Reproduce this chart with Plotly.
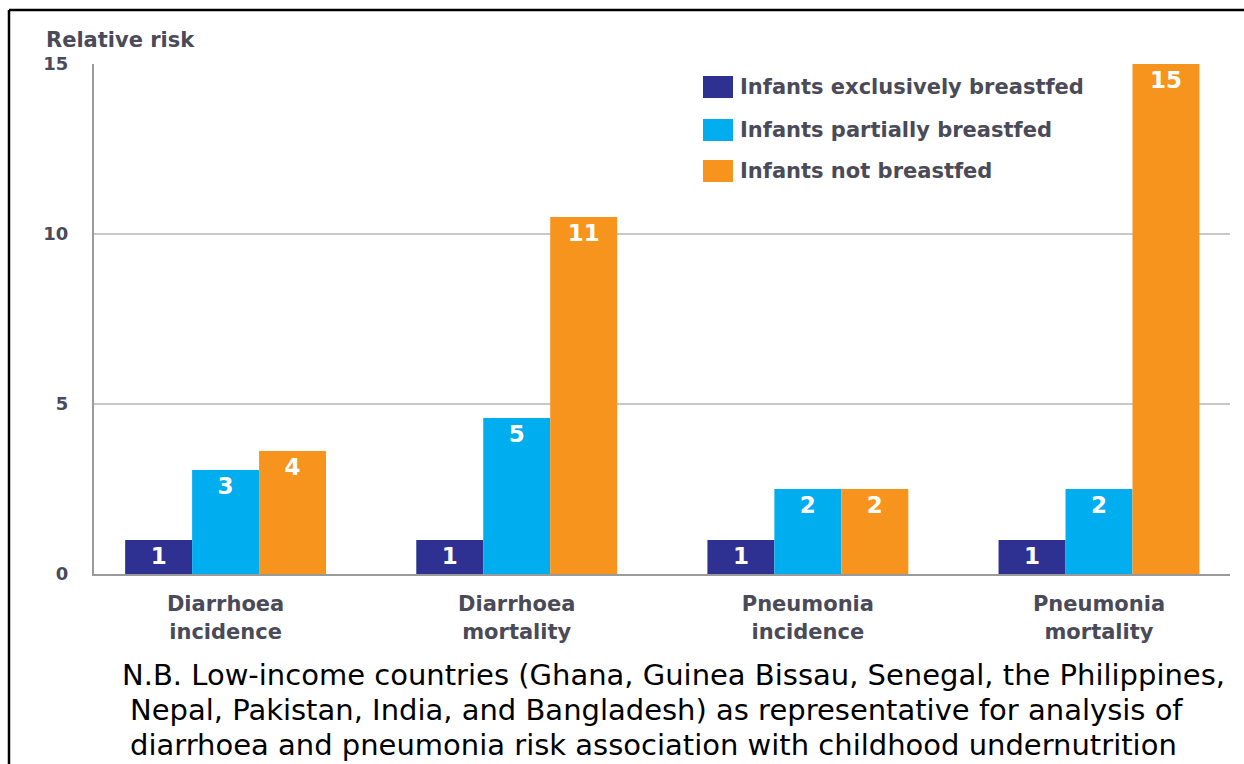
import plotly.graph_objects as go

categories = ["Diarrhoea<br>incidence", "Diarrhoea<br>mortality", "Pneumonia<br>incidence", "Pneumonia<br>mortality"]
series_names = ["Infants exclusively breastfed", "Infants partially breastfed", "Infants not breastfed"]
excl_values = [1.0, 1.0, 1.0, 1.0]
partial_values = [3.06, 4.59, 2.5, 2.5]
not_values = [3.62, 10.5, 2.5, 15.0]
excl_labels = ["1", "1", "1", "1"]
partial_labels = ["3", "5", "2", "2"]
not_labels = ["4", "11", "2", "15"]
y_ticks = [0, 5, 10, 15]
footnote_lines = [
    "N.B. Low-income countries (Ghana, Guinea Bissau, Senegal, the Philippines,",
    "Nepal, Pakistan, India, and Bangladesh) as representative for analysis of",
    "diarrhoea and pneumonia risk association with childhood undernutrition",
]

colors = ["#2E3192", "#00AEEF", "#F7941D"]
text_gray = "#4A4A58"

W, H = 1244, 764
L, R, T, B = 94, 14, 64, 190
PW, PH = W - L - R, H - T - B


def px_x(px):
    return (px - L) / PW


def px_y(py):
    return (H - B - py) / PH


xpos = list(range(len(categories)))
fig = go.Figure()
for name, vals, labels, col in zip(series_names, [excl_values, partial_values, not_values],
                                   [excl_labels, partial_labels, not_labels], colors):
    fig.add_trace(go.Bar(
        x=xpos, y=vals, name=name, marker=dict(color=col, line=dict(width=0)),
        text=labels, textposition="inside", insidetextanchor="end",
        textangle=0, constraintext="none",
        textfont=dict(color="white", size=23, family="DejaVu Sans", weight="bold"),
        showlegend=False,
    ))

fig.update_layout(
    width=W, height=H, paper_bgcolor="white", plot_bgcolor="white",
    margin=dict(l=L, r=R, t=T, b=B),
    barmode="group", bargap=0.31, bargroupgap=0,
    uniformtext=dict(mode=False),
    font=dict(family="DejaVu Sans", color=text_gray),
)
fig.update_xaxes(
    tickmode="array", tickvals=xpos,
    ticktext=["<b>" + c + "</b>" for c in categories],
    range=[-0.452, 3.45], showgrid=False, showline=True, linecolor="#9A9A9A", linewidth=2,
    ticks="", ticklabelstandoff=10,
    tickfont=dict(size=21, color=text_gray, family="DejaVu Sans"), zeroline=False,
)
fig.update_yaxes(
    range=[0, 15], tickvals=y_ticks, ticktext=["<b>%d</b>" % v for v in y_ticks],
    showgrid=True, gridcolor="#C8C8C8", gridwidth=2, showline=True, linecolor="#9A9A9A",
    linewidth=2, zeroline=False, ticks="", ticklabelstandoff=20,
    tickfont=dict(size=18, color=text_gray, family="DejaVu Sans"),
)

# Y axis title
fig.add_annotation(xref="paper", yref="paper", x=px_x(44), y=px_y(40), text="<b>Relative risk</b>",
                   showarrow=False, xanchor="left", yanchor="middle",
                   font=dict(size=21, color=text_gray, family="DejaVu Sans"))

# Custom legend
leg_y = [87, 130, 171]
for name, col, yy in zip(series_names, colors, leg_y):
    fig.add_shape(type="rect", xref="paper", yref="paper", x0=px_x(703), x1=px_x(733),
                  y0=px_y(yy + 11), y1=px_y(yy - 11), fillcolor=col, line=dict(width=0))
    fig.add_annotation(xref="paper", yref="paper", x=px_x(738), y=px_y(yy), text="<b>" + name + "</b>",
                       showarrow=False, xanchor="left", yanchor="middle",
                       font=dict(size=21, color=text_gray, family="DejaVu Sans"))

# Footnote
foot_x = [120, 128, 128]
foot_y = [675, 710, 745]
for line, fx, fy in zip(footnote_lines, foot_x, foot_y):
    fig.add_annotation(xref="paper", yref="paper", x=px_x(fx), y=px_y(fy), text=line,
                       showarrow=False, xanchor="left", yanchor="middle",
                       font=dict(size=29, color="black", family="DejaVu Sans"))

# Frame lines (top and left)
fig.add_shape(type="line", xref="paper", yref="paper", x0=px_x(9), x1=px_x(1260), y0=px_y(10), y1=px_y(10),
              line=dict(color="black", width=2.5))
fig.add_shape(type="line", xref="paper", yref="paper", x0=px_x(9), x1=px_x(9), y0=px_y(10), y1=px_y(780),
              line=dict(color="black", width=2.5))

fig.write_html("out.html")
